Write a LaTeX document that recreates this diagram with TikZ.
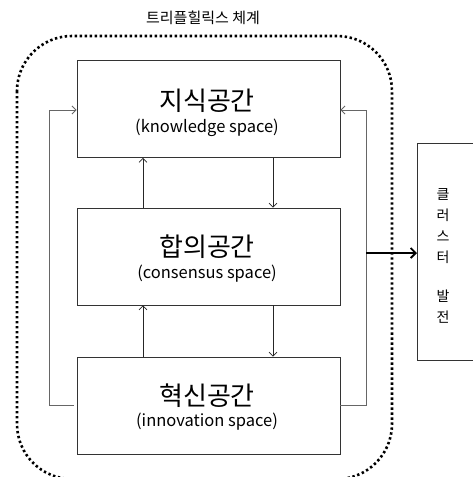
\documentclass[tikz,border=0pt]{standalone}
\usepackage{fontspec}
\setmainfont{Noto Sans CJK KR}
\usetikzlibrary{arrows.meta,positioning,calc}
\begin{document}
\begin{tikzpicture}[x=1pt,y=-1pt,
  spacebox/.style={draw=black!80,line width=0.9pt,minimum width=263pt,minimum height=97pt,inner sep=0pt,align=center},
  flow/.style={draw=black!85,line width=0.7pt,-{Straight Barb[length=4pt,width=8pt]}},
  fback/.style={draw=black!60,line width=0.9pt,-{Straight Barb[length=4pt,width=8pt]}},
  big/.style={font=\fontsize{26}{28}\selectfont},
  small/.style={font=\fontsize{16.5}{18}\selectfont},
]
\useasboundingbox (0,0) rectangle (473,477);
\clip (0,0) rectangle (473,477);
% dotted boundary
\draw[line width=2.6pt,dash pattern=on 2.4pt off 2.6pt,rounded corners=55pt] (17,36) rectangle (392,479);
\node[font=\fontsize{15}{17}\selectfont] (title) at (203,18) {트리플힐릭스 체계};
% boxes
\node[spacebox] (b1) at (208.5,109) {};
\node[spacebox] (b2) at (208.5,256.5) {};
\node[spacebox] (b3) at (208.5,405.5) {};
\node[big] (t1) at (207,101) {지식공간};
\node[small] (s1) at (207,128) {(knowledge space)};
\node[big] (t2) at (207,247) {합의공간};
\node[small] (s2) at (207,274) {(consensus space)};
\node[big] (t3) at (207,396) {혁신공간};
\node[small] (s3) at (207,422) {(innovation space)};
% vertical arrows
\draw[flow] (b2.north -| 143,0) -- (b1.south -| 143,0);
\draw[flow] (b1.south -| 273,0) -- (b2.north -| 273,0);
\draw[flow] (b3.north -| 143,0) -- (b2.south -| 143,0);
\draw[flow] (b2.south -| 273,0) -- (b3.north -| 273,0);
% feedback loops
\coordinate (lb) at (74,405.5);
\coordinate (rb) at (366,253);
\draw[fback] (lb) -- (49,405.5) -- (49,110) -- (b1.west |- 0,110);
\draw[fback] (b3.east) -- (366,405.5) -- (366,110) -- (b1.east |- 0,110);
% cluster box
\node[draw=black!80,line width=0.9pt,minimum width=80pt,minimum height=217pt,anchor=north west,inner sep=0pt] (b4) at (417,143) {};
\node[font=\fontsize{14}{21}\selectfont,align=center] (t4) at (443,256) {클\\러\\스\\터\\[18pt]발\\전};
\draw[draw=black,line width=1.8pt,-{Straight Barb[length=5pt,width=10pt]}] (rb) -- (b4.west |- rb);
\end{tikzpicture}
\end{document}
